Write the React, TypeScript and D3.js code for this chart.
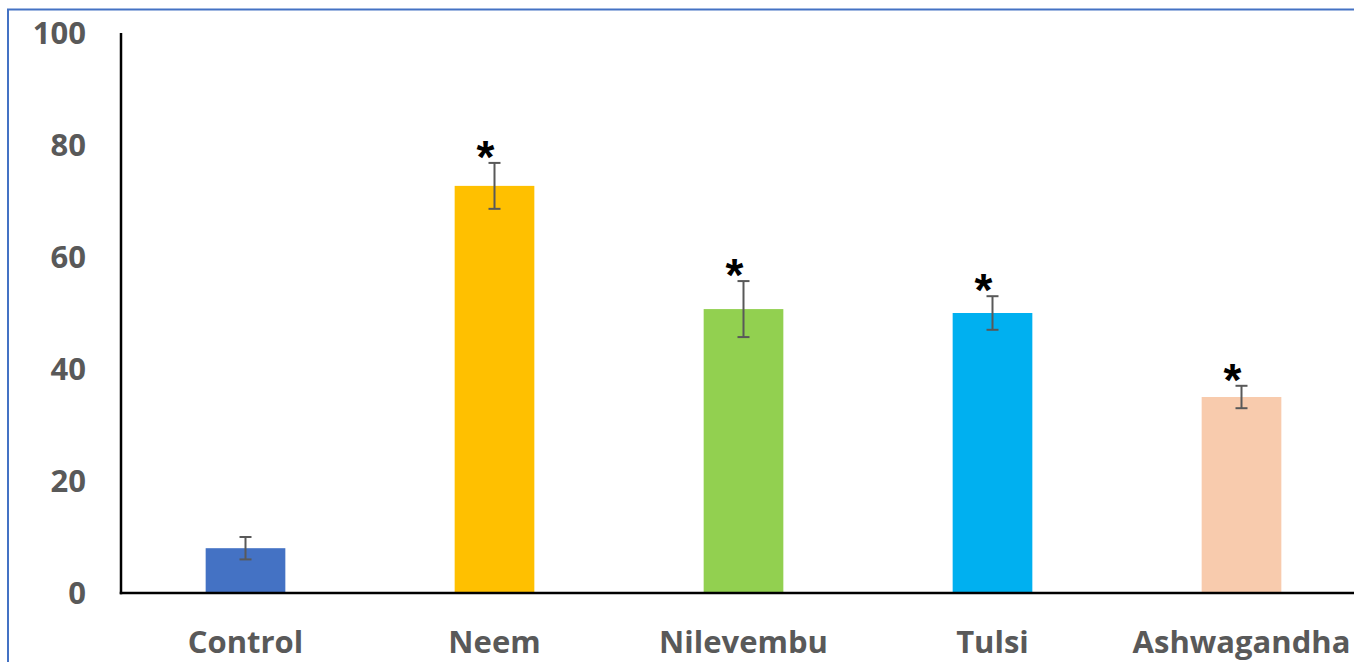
import React, { useEffect, useRef } from 'react';
import * as d3 from 'd3';

const categories = ['Control', 'Neem', 'Nilevembu', 'Tulsi', 'Ashwagandha'];
const values = [8.0, 72.7, 50.7, 50.0, 35.0];
const errors = [2.0, 4.1, 5.0, 3.0, 2.0];
const significant = [false, true, true, true, true];
const colors = ['#4472C4', '#FFC000', '#92D050', '#00B0F0', '#F8CBAD'];
const yTicks = [0, 20, 40, 60, 80, 100];

const W = 1354;
const H = 662;

export default function App() {
  const ref = useRef<SVGSVGElement>(null);

  useEffect(() => {
    const svg = d3.select(ref.current);
    svg.selectAll('*').remove();

    const x0 = 121, x1 = 1366;
    const yTop = 33, yBottom = 593;

    const x = d3.scaleBand<string>().domain(categories).range([x0, x1]);
    const y = d3.scaleLinear().domain([0, 100]).range([yBottom, yTop]);
    const barW = x.bandwidth() * 0.32;
    const cx = (c: string) => (x(c) as number) + x.bandwidth() / 2;

    // outer frame
    svg.append('rect')
      .attr('x', 8).attr('y', 9.5)
      .attr('width', W + 20).attr('height', H + 20)
      .attr('fill', 'none')
      .attr('stroke', '#4472C4')
      .attr('stroke-width', 2);

    // bars
    svg.selectAll('rect.bar')
      .data(categories)
      .enter().append('rect')
      .attr('class', 'bar')
      .attr('x', c => cx(c) - barW / 2)
      .attr('y', (c, i) => y(values[i]))
      .attr('width', barW)
      .attr('height', (c, i) => yBottom - y(values[i]))
      .attr('fill', (c, i) => colors[i]);

    // error bars + significance marks
    const eb = svg.append('g').attr('stroke', '#595959').attr('stroke-width', 2);
    categories.forEach((c, i) => {
      const hi = y(values[i] + errors[i]);
      const lo = y(values[i] - errors[i]);
      const xc = cx(c);
      eb.append('line').attr('x1', xc).attr('x2', xc).attr('y1', hi).attr('y2', lo);
      eb.append('line').attr('x1', xc - 6).attr('x2', xc + 6).attr('y1', hi).attr('y2', hi);
      eb.append('line').attr('x1', xc - 6).attr('x2', xc + 6).attr('y1', lo).attr('y2', lo);
      if (significant[i]) {
        svg.append('text')
          .attr('x', xc - 9)
          .attr('y', hi + 10)
          .attr('text-anchor', 'middle')
          .attr('font-family', 'Liberation Sans, Arial, sans-serif')
          .attr('font-weight', 'bold')
          .attr('font-size', 46)
          .attr('fill', '#000')
          .text('*');
      }
    });

    // axes
    svg.append('line')
      .attr('x1', x0).attr('x2', x0)
      .attr('y1', yTop).attr('y2', yBottom + 1.25)
      .attr('stroke', '#000').attr('stroke-width', 2.5);
    svg.append('line')
      .attr('x1', x0 - 1.25).attr('x2', W)
      .attr('y1', yBottom).attr('y2', yBottom)
      .attr('stroke', '#000').attr('stroke-width', 2.5);

    // y tick labels
    svg.selectAll('text.ytick')
      .data(yTicks)
      .enter().append('text')
      .attr('class', 'ytick')
      .attr('x', 86)
      .attr('y', d => y(d))
      .attr('dy', '0.36em')
      .attr('text-anchor', 'end')
      .attr('font-family', 'Open Sans, sans-serif')
      .attr('font-weight', 'bold')
      .attr('font-size', 31)
      .attr('fill', '#595959')
      .text(d => d);

    // category labels
    svg.selectAll('text.xlab')
      .data(categories)
      .enter().append('text')
      .attr('class', 'xlab')
      .attr('x', c => cx(c))
      .attr('y', 653)
      .attr('text-anchor', 'middle')
      .attr('font-family', 'Open Sans, sans-serif')
      .attr('font-weight', 'bold')
      .attr('font-size', 31)
      .attr('fill', '#595959')
      .text(c => c);
  }, []);

  return (
    <div style={{ position: 'fixed', left: 0, top: 0, width: W, height: H, background: '#fff' }}>
      <svg ref={ref} width={W} height={H} style={{ display: 'block' }} />
    </div>
  );
}
